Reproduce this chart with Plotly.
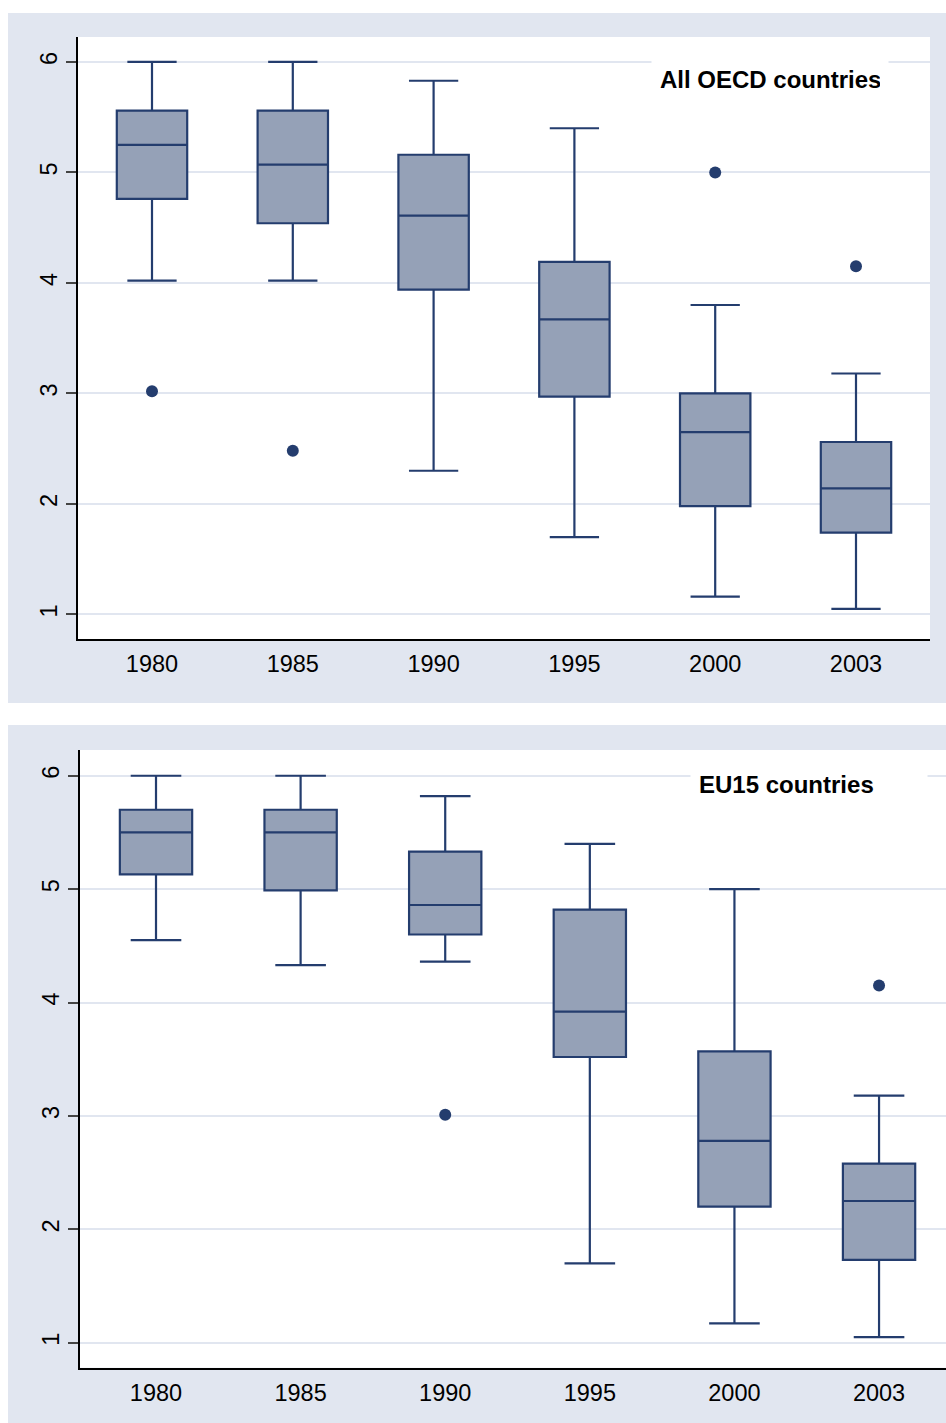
import plotly.graph_objects as go

# Survey years shown on the horizontal axis
years = ["1980", "1985", "1990", "1995", "2000", "2003"]

# All OECD countries: box-plot summary statistics per year
oecd_lower = [4.02, 4.02, 2.30, 1.70, 1.16, 1.05]
oecd_q1 = [4.76, 4.54, 3.94, 2.97, 1.98, 1.74]
oecd_median = [5.25, 5.07, 4.61, 3.67, 2.65, 2.14]
oecd_q3 = [5.56, 5.56, 5.16, 4.19, 3.00, 2.56]
oecd_upper = [6.00, 6.00, 5.83, 5.40, 3.80, 3.18]
oecd_outlier_years = ["1980", "1985", "2000", "2003"]
oecd_outliers = [3.02, 2.48, 5.00, 4.15]

# EU15 countries: box-plot summary statistics per year
eu_lower = [4.55, 4.33, 4.36, 1.70, 1.17, 1.05]
eu_q1 = [5.13, 4.99, 4.60, 3.52, 2.20, 1.73]
eu_median = [5.50, 5.50, 4.86, 3.92, 2.78, 2.25]
eu_q3 = [5.70, 5.70, 5.33, 4.82, 3.57, 2.58]
eu_upper = [6.00, 6.00, 5.82, 5.40, 5.00, 3.18]
eu_outlier_years = ["1990", "2003"]
eu_outliers = [3.01, 4.15]

y_ticks = [1, 2, 3, 4, 5, 6]
panel_titles = ["All OECD countries", "EU15 countries"]

W, H = 946, 1423
NAVY = "#243d6e"
FILL = "#95a1b7"
PANEL_BG = "#e1e6f0"
GRID = "#e1e6f0"
FONT = "Liberation Sans, Arial, sans-serif"


def px_x(p):
    return p / W


def px_y(p):
    return 1 - p / H


fig = go.Figure()

panels = [
    dict(lower=oecd_lower, q1=oecd_q1, med=oecd_median, q3=oecd_q3, upper=oecd_upper,
         oy=oecd_outlier_years, ov=oecd_outliers, xa="x", ya="y"),
    dict(lower=eu_lower, q1=eu_q1, med=eu_median, q3=eu_q3, upper=eu_upper,
         oy=eu_outlier_years, ov=eu_outliers, xa="x2", ya="y2"),
]

for p in panels:
    fig.add_trace(go.Box(
        x=years, q1=p["q1"], median=p["med"], q3=p["q3"],
        lowerfence=p["lower"], upperfence=p["upper"],
        boxpoints=False, width=0.5, whiskerwidth=0.7,
        fillcolor=FILL, line=dict(color=NAVY, width=2.2),
        xaxis=p["xa"], yaxis=p["ya"], showlegend=False, hoverinfo="skip",
    ))
    fig.add_trace(go.Scatter(
        x=p["oy"], y=p["ov"], mode="markers",
        marker=dict(color=NAVY, size=12, line=dict(width=0)),
        xaxis=p["xa"], yaxis=p["ya"], showlegend=False, hoverinfo="skip",
    ))

# Plot-area pixel boxes: (left, top, right, bottom)
area1 = (78, 37, 930, 639)
area2 = (80, 750, 946, 1367.7)

common_x = dict(
    type="category", categoryorder="array", categoryarray=years,
    showgrid=False, zeroline=False, showline=True, linecolor="black", linewidth=1.5,
    ticks="", tickfont=dict(family=FONT, size=23.5, color="black"),
    ticklabelstandoff=3, fixedrange=True,
)
common_y = dict(
    tickvals=y_ticks, ticktext=[str(v) for v in y_ticks], tickangle=-90,
    showgrid=True, gridcolor=GRID, gridwidth=1.6, zeroline=False,
    showline=True, linecolor="black", linewidth=1.5,
    ticks="outside", ticklen=10, tickwidth=1.5, tickcolor="#444444",
    tickfont=dict(family=FONT, size=23.5, color="black"), fixedrange=True,
)

fig.update_layout(
    width=W, height=H,
    margin=dict(l=0, r=0, t=0, b=0),
    paper_bgcolor="white", plot_bgcolor="white",
    font=dict(family=FONT, color="black"),
    xaxis=dict(common_x, domain=[px_x(area1[0]), px_x(area1[2])],
               range=[-0.5256, 5.5256], anchor="y"),
    yaxis=dict(common_y, domain=[px_y(area1[3]), px_y(area1[1])],
               range=[0.777, 6.226], anchor="x"),
    xaxis2=dict(common_x, domain=[px_x(area2[0]), px_x(area2[2])],
                range=[-0.5256, 5.463], anchor="y2"),
    yaxis2=dict(common_y, domain=[px_y(area2[3]), px_y(area2[1])],
                range=[0.780, 6.227], anchor="x2"),
)

# Light outer panels with white plotting regions on top
shapes = []
for (l, t, r, b) in [(8, 13, 946, 703), (8, 725, 946, 1423)]:
    shapes.append(dict(type="rect", xref="paper", yref="paper", layer="below",
                       x0=px_x(l), x1=px_x(r), y0=px_y(b), y1=px_y(t),
                       fillcolor=PANEL_BG, line=dict(width=0)))
for (l, t, r, b) in [area1, area2]:
    shapes.append(dict(type="rect", xref="paper", yref="paper", layer="below",
                       x0=px_x(l), x1=px_x(r), y0=px_y(b), y1=px_y(t),
                       fillcolor="white", line=dict(width=0)))
fig.update_layout(shapes=shapes)

# Panel captions in white boxes
for title, cx, cy in [(panel_titles[0], 770, 79.5), (panel_titles[1], 809, 784.5)]:
    fig.add_annotation(
        text="<b>%s</b>" % title, xref="paper", yref="paper",
        x=px_x(cx), y=px_y(cy), xanchor="center", yanchor="middle",
        showarrow=False, width=220, align="left",
        bgcolor="white", borderpad=8,
        font=dict(family=FONT, size=24, color="black"),
    )

fig.write_html("out.html", config={"displayModeBar": False})
